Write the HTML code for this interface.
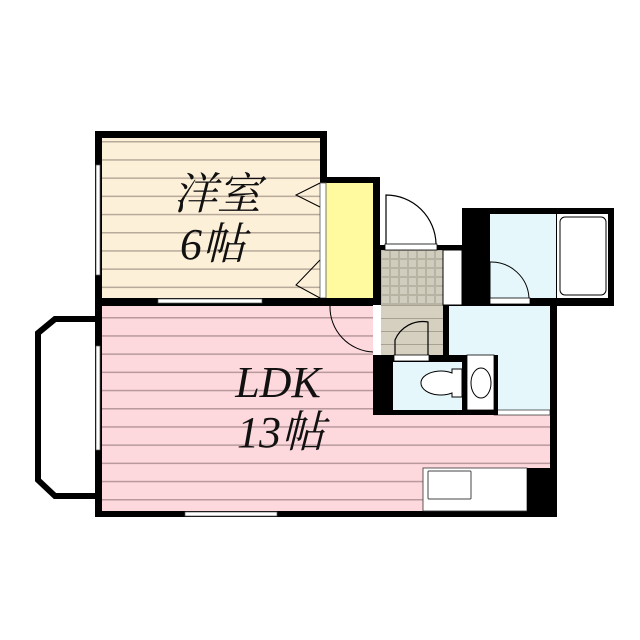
<!DOCTYPE html>
<html><head><meta charset="utf-8"><style>html,body{margin:0;padding:0;background:#fff}svg{display:block}</style></head><body>
<svg width="640" height="640" viewBox="0 0 640 640" xmlns="http://www.w3.org/2000/svg">
<defs>
<pattern id="wl" x="0" y="141" width="10" height="18.2" patternUnits="userSpaceOnUse"><rect width="10" height="18.2" fill="#fdf0d8"/><rect y="0" width="10" height="1.5" fill="#b8aa9a"/></pattern>
<pattern id="pl" x="0" y="317" width="10" height="18.2" patternUnits="userSpaceOnUse"><rect width="10" height="18.2" fill="#fdd8dc"/><rect y="0" width="10" height="1.5" fill="#b89a9e"/></pattern>
<pattern id="tile" x="381" y="250" width="9" height="9" patternUnits="userSpaceOnUse"><rect width="9" height="9" fill="#b8b4a4"/><rect x="1" y="1" width="7" height="7" fill="#d0ccbe"/></pattern>
<pattern id="hl" x="0" y="305" width="10" height="13" patternUnits="userSpaceOnUse"><rect width="10" height="13" fill="#d6d0c0"/><rect width="10" height="1" fill="#a8a090"/></pattern>
</defs>
<!-- balcony -->
<path d="M95 319 H55 L38 333 V480 L55 496 H95" fill="none" stroke="#000" stroke-width="6"/>
<!-- western room -->
<rect x="95" y="131" width="232" height="175" fill="#000"/>
<rect x="102" y="138" width="218" height="160" fill="url(#wl)"/>
<!-- closet -->
<rect x="320" y="177" width="60" height="129" fill="#000"/>
<rect x="326" y="183" width="47" height="115" fill="#fff9a0"/>
<rect x="320" y="183" width="6" height="115" fill="#fff" stroke="#555" stroke-width="0.8"/>
<path d="M320 183 L296 195 L320 207 M320 260 L296 285 L320 298" fill="none" stroke="#000" stroke-width="1"/>
<!-- LDK -->
<rect x="95" y="298" width="462" height="219" fill="#000"/>
<rect x="102" y="306" width="449" height="205" fill="url(#pl)"/>
<!-- windows -->
<rect x="96" y="346" width="4" height="104" fill="#fff" stroke="#555" stroke-width="0.7"/>
<rect x="96" y="165" width="4" height="110" fill="#fff" stroke="#555" stroke-width="0.7"/>
<rect x="158" y="299" width="104" height="4" fill="#fff" stroke="#555" stroke-width="0.7"/>
<rect x="185" y="512" width="92" height="4" fill="#fff" stroke="#555" stroke-width="0.7"/>
<!-- LDK door arc -->
<path d="M330 306 A45 45 0 0 0 373 352" fill="none" stroke="#000" stroke-width="1"/>
<!-- entrance -->
<rect x="373" y="245" width="90" height="110" fill="#000"/>
<rect x="381" y="250" width="62" height="55" fill="url(#tile)"/>
<rect x="381" y="305" width="62" height="50" fill="url(#hl)"/>
<rect x="443" y="250" width="19" height="55" fill="#fff" stroke="#000" stroke-width="1"/>
<rect x="373" y="305" width="8" height="50" fill="#fff"/>
<rect x="385" y="244" width="52" height="6" fill="#fff" stroke="#000" stroke-width="0.8"/>
<path d="M386 244 V195 A50 50 0 0 1 436 244" fill="none" stroke="#000" stroke-width="1.2"/>
<path d="M395 355 V340 A30 30 0 0 1 428 322 V355" fill="none" stroke="#000" stroke-width="1.2"/>
<!-- bath block -->
<rect x="462" y="208" width="152" height="98" fill="#000"/>
<rect x="490" y="214" width="66" height="84" fill="#e6f7fc"/>
<rect x="557" y="214" width="51" height="84" fill="#fff"/>
<rect x="560" y="217" width="46" height="78" rx="5" fill="#fff" stroke="#000" stroke-width="1"/>
<rect x="490" y="298" width="40" height="6" fill="#fff" stroke="#000" stroke-width="0.8"/>
<path d="M490 298 V262 A38 38 0 0 1 529 298" fill="none" stroke="#000" stroke-width="1"/>
<!-- washroom -->
<rect x="443" y="305" width="114" height="110" fill="#000"/>
<rect x="449" y="306" width="101" height="104" fill="#e6f7fc"/>
<rect x="494" y="410" width="56" height="5" fill="#fff" stroke="#000" stroke-width="0.6"/>
<rect x="550" y="306" width="7" height="211" fill="#000"/>
<!-- toilet -->
<rect x="373" y="355" width="125" height="60" fill="#000"/>
<rect x="393" y="362" width="69" height="48" fill="#e6f7fc"/>
<rect x="467" y="355" width="27" height="55" fill="#fff" stroke="#000" stroke-width="0.8"/>
<ellipse cx="481" cy="383" rx="10" ry="15" fill="#fff" stroke="#000" stroke-width="1"/>
<path d="M452 373 V369 H462 V397 H452 V393 A20 12 0 1 1 452 373 Z" fill="#fff" stroke="#000" stroke-width="1"/>
<rect x="394" y="355" width="35" height="6" fill="#fff" stroke="#000" stroke-width="0.8"/>
<!-- kitchen -->
<rect x="423" y="468" width="104" height="43" fill="#fff" stroke="#333" stroke-width="0.8"/>
<rect x="428" y="471" width="43" height="28" rx="1" fill="#fff" stroke="#444" stroke-width="1"/>
<rect x="527" y="468" width="30" height="49" fill="#000"/>
<!-- labels -->
<g font-family="'Liberation Serif','Noto Serif CJK SC',serif" font-style="italic" font-size="44" fill="#111" text-anchor="middle">
<text x="217" y="209" transform="skewX(0)">洋室</text>
<text x="213" y="259">6帖</text>
<text x="278" y="397">LDK</text>
<text x="281" y="447">13帖</text>
</g>
</svg>
</body></html>
